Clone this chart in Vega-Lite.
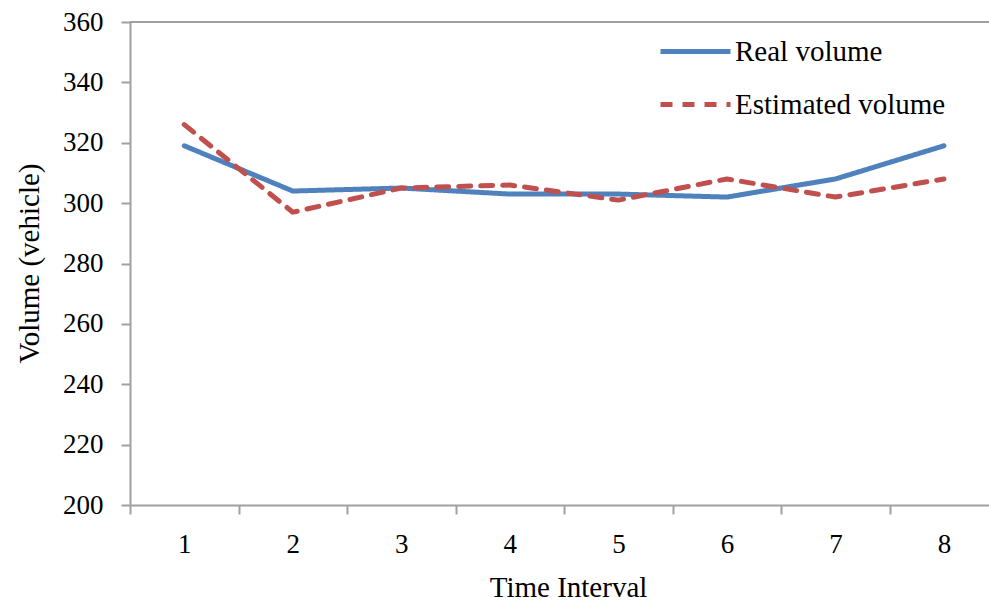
{
  "$schema": "https://vega.github.io/schema/vega-lite/v6.json",
  "autosize": {"type": "none"},
  "padding": {"left": 130, "top": 22, "right": 0, "bottom": 97},
  "width": 859,
  "height": 483,
  "background": "white",
  "config": {
    "view": {"stroke": null},
    "font": "Liberation Serif",
    "axis": {
      "labelFont": "Liberation Serif",
      "titleFont": "Liberation Serif",
      "labelColor": "#000000",
      "titleColor": "#000000",
      "titleFontWeight": "normal",
      "domainColor": "#A0A0A0",
      "tickColor": "#A0A0A0",
      "domainWidth": 2,
      "tickWidth": 2,
      "grid": false
    }
  },
  "data": {
    "values": [
      {"interval": 1, "series": "Real volume", "volume": 319},
      {"interval": 2, "series": "Real volume", "volume": 304},
      {"interval": 3, "series": "Real volume", "volume": 305},
      {"interval": 4, "series": "Real volume", "volume": 303},
      {"interval": 5, "series": "Real volume", "volume": 303},
      {"interval": 6, "series": "Real volume", "volume": 302},
      {"interval": 7, "series": "Real volume", "volume": 308},
      {"interval": 8, "series": "Real volume", "volume": 319},
      {"interval": 1, "series": "Estimated volume", "volume": 326},
      {"interval": 2, "series": "Estimated volume", "volume": 297},
      {"interval": 3, "series": "Estimated volume", "volume": 305},
      {"interval": 4, "series": "Estimated volume", "volume": 306},
      {"interval": 5, "series": "Estimated volume", "volume": 301},
      {"interval": 6, "series": "Estimated volume", "volume": 308},
      {"interval": 7, "series": "Estimated volume", "volume": 302},
      {"interval": 8, "series": "Estimated volume", "volume": 308}
    ]
  },
  "layer": [
    {
      "mark": {"type": "rule", "color": "#A0A0A0", "strokeWidth": 2},
      "encoding": {"y": {"datum": 360}}
    },
    {
      "mark": {"type": "line", "strokeWidth": 5, "strokeCap": "round", "strokeJoin": "round"},
      "encoding": {
        "x": {
          "field": "interval",
          "type": "quantitative",
          "scale": {"domain": [0.5, 8.415], "nice": false, "zero": false},
          "axis": {
            "orient": "bottom",
            "values": [0.5, 1.5, 2.5, 3.5, 4.5, 5.5, 6.5, 7.5],
            "labels": false,
            "tickSize": 9,
            "title": "Time Interval",
            "titleFontSize": 29,
            "titleBaseline": "alphabetic",
            "titleX": 438,
            "titleY": 91
          }
        },
        "y": {
          "field": "volume",
          "type": "quantitative",
          "scale": {"domain": [200, 360], "nice": false, "zero": false},
          "axis": {
            "values": [200, 220, 240, 260, 280, 300, 320, 340, 360],
            "tickSize": 9,
            "labelFontSize": 27,
            "labelPadding": 18,
            "title": "Volume (vehicle)",
            "titleFontSize": 29,
            "titleBaseline": "alphabetic",
            "titleX": -92,
            "titleY": 241
          }
        },
        "color": {
          "field": "series",
          "type": "nominal",
          "scale": {"domain": ["Real volume", "Estimated volume"], "range": ["#4F81BD", "#C0504D"]},
          "legend": {
            "orient": "none",
            "legendX": 528,
            "legendY": -8,
            "title": null,
            "symbolType": "stroke",
            "symbolSize": 4900,
            "symbolStrokeWidth": 5,
            "labelFont": "Liberation Serif",
            "labelFontSize": 29,
            "labelColor": "#000000",
            "labelOffset": 2,
            "labelLimit": 400,
            "rowPadding": -22
          }
        },
        "strokeDash": {
          "field": "series",
          "type": "nominal",
          "scale": {"domain": ["Real volume", "Estimated volume"], "range": [[1, 0], [12, 10]]},
          "legend": null
        }
      }
    },
    {
      "mark": {"type": "rule", "opacity": 0},
      "encoding": {
        "x": {
          "field": "interval",
          "type": "quantitative",
          "axis": {
            "orient": "bottom",
            "values": [1, 2, 3, 4, 5, 6, 7, 8],
            "ticks": false,
            "domain": false,
            "labelFontSize": 27,
            "labelPadding": 26,
            "title": null
          }
        }
      }
    }
  ],
  "resolve": {"axis": {"x": "independent"}}
}
